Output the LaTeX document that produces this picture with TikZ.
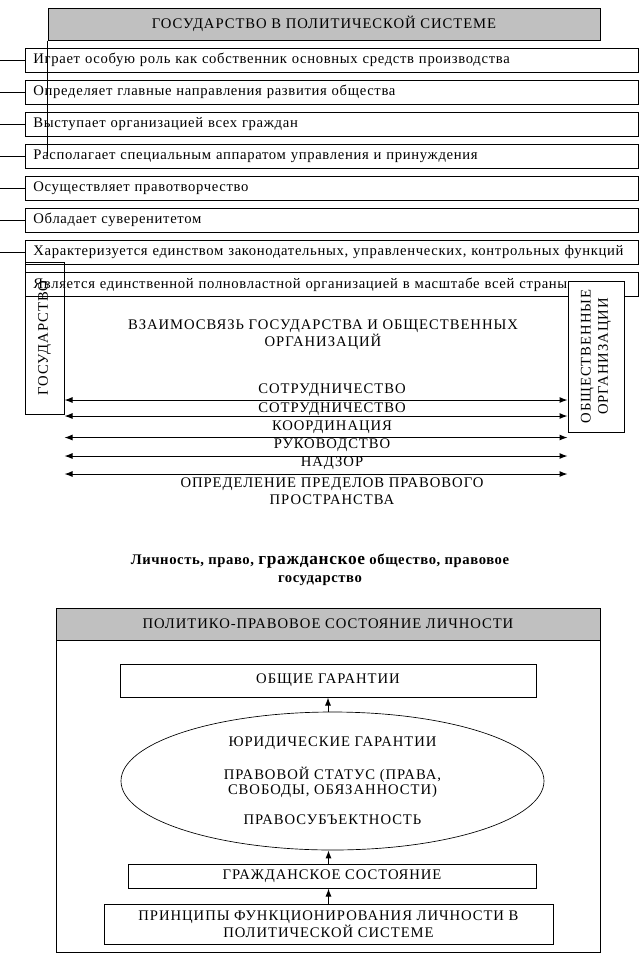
\documentclass[tikz,border=0pt]{standalone}
\usepackage{fontspec}
\setmainfont{Liberation Serif}[LetterSpace=6.5]
\newfontfamily\rowfont{Liberation Serif}[LetterSpace=4.5]
\newfontfamily\capfont{Liberation Serif}[LetterSpace=4]
\usetikzlibrary{arrows.meta,shapes.geometric}
\definecolor{headgray}{RGB}{192,192,192}
\begin{document}
\begin{tikzpicture}[x=0.75pt,y=-0.75pt,
  every node/.style={font=\fontsize{11}{13}\selectfont},
  frame/.style={draw,line width=0.75pt,inner sep=0pt},
  head/.style={frame,fill=headgray},
  row/.style={frame,anchor=west,minimum height=18pt,text width=447.75pt,align=left,inner xsep=6pt,font=\rowfont\fontsize{11}{13}\selectfont},
  lbl/.style={inner sep=0pt,align=center},
  dbl/.style={line width=0.75pt,{Latex[length=6pt,width=4.5pt]}-{Latex[length=6pt,width=4.5pt]}},
  up/.style={line width=0.75pt,-{Latex[length=6pt,width=4.5pt]}},
  conn/.style={line width=0.75pt}
]
\useasboundingbox (0,0) rectangle (642,961);
\coordinate (edge) at (0,0);

% ---------- top part ----------
\node[head,minimum width=414pt,minimum height=24pt] (hd) at (324,24) {ГОСУДАРСТВО В ПОЛИТИЧЕСКОЙ СИСТЕМЕ};

\node[row] (r1) at (25,60) {Играет особую роль как собственник основных средств производства};
\node[row] (r2) at (25,92) {Определяет главные направления развития общества};
\node[row] (r3) at (25,124.5) {Выступает организацией всех граждан};
\node[row] (r4) at (25,156) {Располагает специальным аппаратом управления и принуждения};
\node[row] (r5) at (25,188) {Осуществляет правотворчество};
\node[row] (r6) at (25,220) {Обладает суверенитетом};
\node[row] (r7) at (25,252) {Характеризуется единством законодательных, управленческих, контрольных функций};
\node[row] (r8) at (25,284.5) {Является единственной полновластной организацией в масштабе всей страны};

\draw[conn] (hd.south west) -- (hd.south west |- r4.west);
\foreach \r in {r1,r2,r3,r4,r5,r6,r7}{
  \draw[conn] (\r.west) -- (\r.west -| edge);
}

\node[frame,rotate=90,minimum width=114pt,minimum height=29.25pt] (gos) at (44.5,338) {ГОСУДАРСТВО};
\node[frame,fill=white,rotate=90,align=center,minimum width=113.25pt,minimum height=42pt] (obsh) at (596,356.5) {ОБЩЕСТВЕННЫЕ\\ОРГАНИЗАЦИИ};

\node[lbl] (vz) at (323,335) {ВЗАИМОСВЯЗЬ ГОСУДАРСТВА И ОБЩЕСТВЕННЫХ\\ОРГАНИЗАЦИЙ};

\node[lbl] (l1) at (332,390) {СОТРУДНИЧЕСТВО};
\node[lbl] (l2) at (332,409) {СОТРУДНИЧЕСТВО};
\node[lbl] (l3) at (332,427) {КООРДИНАЦИЯ};
\node[lbl] (l4) at (332,445) {РУКОВОДСТВО};
\node[lbl] (l5) at (332,463) {НАДЗОР};
\node[lbl] (l6) at (332,491) {ОПРЕДЕЛЕНИЕ ПРЕДЕЛОВ ПРАВОВОГО\\ПРОСТРАНСТВА};

\coordinate (y1) at (0,400);
\coordinate (y2) at (0,416);
\coordinate (y3) at (0,437.5);
\coordinate (y4) at (0,456);
\coordinate (y5) at (0,474);
\foreach \y in {y1,y2,y3,y4,y5}{
  \draw[dbl] (gos.south |- \y) -- (obsh.north |- \y);
}

% ---------- caption ----------
\node[lbl,font=\capfont\bfseries\fontsize{11}{13.5}\selectfont] (cap) at (320,570)
  {Личность, право, {\fontsize{13}{13.5}\selectfont гражданское} общество, правовое\\государство};

% ---------- bottom part ----------
\node[frame,minimum width=408pt,minimum height=258pt] (outer) at (328,780) {};
\node[head,minimum width=408pt,minimum height=24pt] (hd2) at (328,624) {ПОЛИТИКО-ПРАВОВОЕ СОСТОЯНИЕ ЛИЧНОСТИ};

\node[frame,minimum width=312pt,minimum height=24.75pt] (gen) at (328,680.5) {ОБЩИЕ ГАРАНТИИ};
\node[draw,ellipse,line width=0.5pt,inner sep=0pt,align=center,minimum width=317.25pt,minimum height=103.5pt] (ell) at (332.5,781)
  {ЮРИДИЧЕСКИЕ ГАРАНТИИ\\[11.5pt]ПРАВОВОЙ СТАТУС (ПРАВА,\\[-1.5pt]СВОБОДЫ, ОБЯЗАННОСТИ)\\[9.25pt]ПРАВОСУБЪЕКТНОСТЬ};
\node[frame,minimum width=306pt,minimum height=18pt] (grazh) at (332,876) {ГРАЖДАНСКОЕ СОСТОЯНИЕ};
\node[frame,align=center,minimum width=336.75pt,minimum height=30pt] (princ) at (328.5,924)
  {ПРИНЦИПЫ ФУНКЦИОНИРОВАНИЯ ЛИЧНОСТИ В\\ПОЛИТИЧЕСКОЙ СИСТЕМЕ};

\draw[up] (ell.north -| gen.south) -- (gen.south);
\draw[up] (grazh.north -| princ.north) -- (ell.south -| princ.north);
\draw[up] (princ.north) -- (princ.north |- grazh.south);
\end{tikzpicture}
\end{document}
